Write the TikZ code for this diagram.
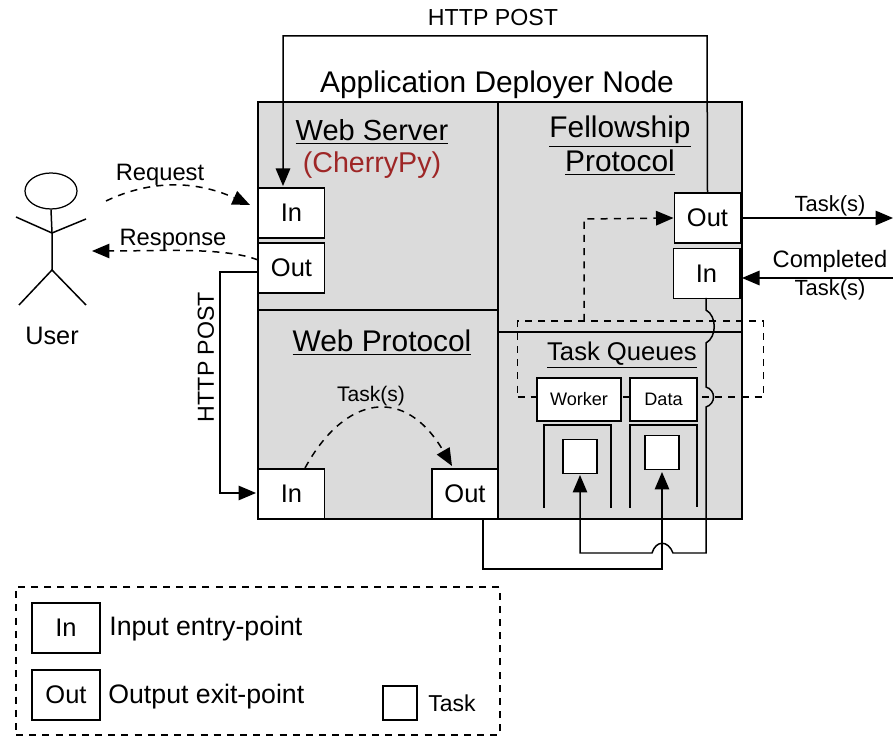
\documentclass[tikz,border=0pt]{standalone}
\usepackage{fontspec}
\setmainfont{Liberation Sans}
\usetikzlibrary{arrows.meta,shapes.geometric}

\begin{document}
\begin{tikzpicture}[x=0.02cm,y=-0.02cm,
    region/.style={draw,fill=gray!28,line width=0.3mm,inner sep=0pt},
    port/.style={draw,fill=white,line width=0.3mm,inner sep=0pt,minimum width=1.33cm,minimum height=1cm,font=\fontsize{14.5}{16}\selectfont},
    queue/.style={draw,fill=white,line width=0.3mm,inner sep=0pt,minimum height=0.86cm,font=\fontsize{10.3}{12}\selectfont},
    task/.style={draw,fill=white,line width=0.3mm,inner sep=0pt,minimum size=0.68cm},
    title/.style={font=\fontsize{17}{20}\selectfont},
    caption/.style={font=\fontsize{13.5}{16}\selectfont},
    wire/.style={->,>={Stealth[length=3.5mm,width=2.9mm,inset=0pt]},line width=0.3mm},
    plain/.style={line width=0.3mm},
    dashwire/.style={wire,dash pattern=on 4pt off 3.5pt},
    dashbox/.style={line width=0.3mm,dash pattern=on 4pt off 3.5pt}]
    \useasboundingbox (0,0) rectangle (893,736);

    \node[region,minimum width=4.8cm,minimum height=4.16cm] at (378,206) (server) {};
    \node[region,minimum width=4.8cm,minimum height=4.18cm] at (378,414.5) (webproto) {};
    \node[region,minimum width=4.88cm,minimum height=4.6cm] at (620,217) (fellow) {};
    \node[region,minimum width=4.88cm,minimum height=3.74cm] at (620,425.5) (queues) {};

    \node[title] at (497,85) (deployer) {Application Deployer Node};
    \node[title,font=\fontsize{16.5}{20}\selectfont] at (372,132) (servername) {\underline{Web Server}};
    \node[title,font=\fontsize{16.3}{20}\selectfont,text=red!55!black!85] at (372,165) (cherry) {(CherryPy)};
    \node[title] at (620,132) (fellowname) {\underline{Fellowship}};
    \node[title] at (620,163) (protoname) {\underline{Protocol}};
    \node[title] at (382,343) (webname) {\underline{Web Protocol}};
    \node[font=\fontsize{14.6}{17}\selectfont] at (622,355) (queuename) {\underline{Task Queues}};

    % dashed group round the queues
    \node[dashbox,draw,inner sep=0pt,minimum width=4.92cm,minimum height=1.52cm] at (640.5,359) (group) {};

    \node[port] at (291.5,213) (wsin) {In};
    \node[port] at (291.5,268) (wsout) {Out};
    \node[port] at (291.5,494) (wpin) {In};
    \node[port] at (465,494) (wpout) {Out};
    \node[port] at (707.5,218) (flout) {Out};
    \node[port] at (706.5,273.5) (flin) {In};
    \node[queue,minimum width=1.68cm] at (579,399.5) (worker) {Worker};
    \node[queue,minimum width=1.34cm] at (663.5,399.5) (data) {Data};
    \node[task] at (580,456.5) (workertask) {};
    \node[task] at (662,452.5) (datatask) {};

    \draw[plain] (544,508) -- (544,425) -- (611,425) -- (611,508);
    \draw[plain] (630,508) -- (630,425) -- (697,425) -- (697,507);

    % user
    \node[draw,ellipse,line width=0.25mm,minimum width=1.04cm,minimum height=0.72cm,inner sep=0pt] at (51,191) (head) {};
    \coordinate (hip) at (52,270);
    \coordinate (neck) at (52,233);
    \draw[plain] (head.south) -- (neck) -- (hip);
    \draw[plain] (16,217) -- (neck) -- (86,219);
    \draw[plain] (19,305) -- (hip) -- (86,305);
    \node[caption,font=\fontsize{14.4}{17}\selectfont] at (52,336) (user) {User};

    \coordinate (reqstart) at (106,201);
    \coordinate (reqend) at (250,205);
    \coordinate (respend) at (92,251);
    \coordinate (respstart) at (258,260);
    \draw[dashwire] (reqstart) .. controls (150,180) and (195,180) .. (reqend);
    \draw[dashwire] (respstart) .. controls (225,247) and (160,251) .. (respend);
    \node[caption] at (160,175) (request) {Request};
    \node[caption] at (173,240) (response) {Response};

    % http posts
    \coordinate (wsintip) at (283,186);
    \coordinate (wsoutleft) at (258,272);
    \coordinate (wpintip) at (256,493);
    \draw[wire] (flout.north) -- (707,36) -- (283,36) -- (wsintip);
    \draw[wire] (wsoutleft) -- (220,272) -- (220,493) -- (wpintip);
    \node[caption,font=\fontsize{13.2}{16}\selectfont] at (493,18) (posttop) {HTTP POST};
    \node[caption,font=\fontsize{13.2}{16}\selectfont,rotate=90] at (206,357) (postleft) {HTTP POST};

    \coordinate (wpstart) at (305,468);
    \coordinate (wpend) at (452,466);
    \draw[dashwire] (wpstart) .. controls (345,395) and (405,385) .. (wpend);
    \node[caption,font=\fontsize{12}{14}\selectfont] at (371,396) (wptasks) {Task(s)};

    % fellowship side
    \coordinate (outright) at (893,218);
    \coordinate (inright) at (893,278);
    \coordinate (intip) at (742,278);
    \coordinate (dashturn) at (584,321);
    \draw[wire] (flout.east) -- (outright);
    \draw[wire] (inright) -- (intip);
    \draw[dashwire] (dashturn) -- (584,219) -- (flout.west);
    \node[caption,font=\fontsize{12.5}{15}\selectfont] at (830,206) (outtasks) {Task(s)};
    \node[caption] at (830,261) (completed) {Completed};
    \node[caption,font=\fontsize{12.5}{15}\selectfont] at (830,290) (intasks) {Task(s)};

    \draw[wire] (706,298) -- (706,310) .. controls (717,316) and (717,337) .. (706,343) -- (706,387)
        .. controls (716,390) and (716,404) .. (706,407) -- (706,553) -- (673,553)
        .. controls (668,540) and (656,540) .. (652,553) -- (580,553) -- (580,475);
    \draw[wire] (483,519) -- (483,569) -- (662,569) -- (662,472);

    % legend
    \node[dashbox,draw,inner sep=0pt,minimum width=9.68cm,minimum height=2.96cm] at (258,661) (legend) {};
    \node[port,minimum width=1.36cm] at (66,628) (legin) {In};
    \node[port,minimum width=1.36cm] at (66,695) (legout) {Out};
    \node[task] at (400,703) (legtask) {};
    \node[caption,font=\fontsize{15.2}{18}\selectfont,anchor=west,inner sep=0pt] at (109,629) (legintext) {Input entry-point};
    \node[caption,font=\fontsize{15.2}{18}\selectfont,anchor=west,inner sep=0pt] at (108,697) (legouttext) {Output exit-point};
    \node[caption,font=\fontsize{13.1}{16}\selectfont,anchor=west,inner sep=0pt] at (428,703) (legtasktext) {Task};
\end{tikzpicture}
\end{document}
